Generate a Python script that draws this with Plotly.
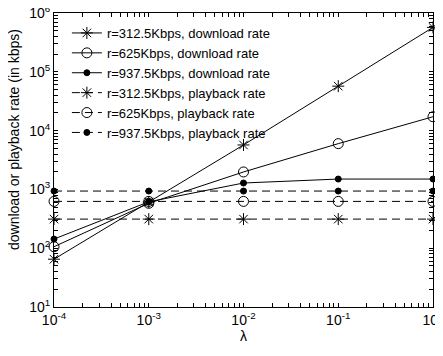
import plotly.graph_objects as go

lam = [1e-4, 1e-3, 1e-2, 1e-1, 1e0]
dl_312 = [65, 610, 5700, 57000, 570000]
dl_625 = [106, 580, 1980, 6000, 17200]
dl_937 = [143, 615, 1285, 1500, 1500]
pb_312 = [312.5] * 5
pb_625 = [625] * 5
pb_937 = [937.5] * 5

names = ["r=312.5Kbps, download rate", "r=625Kbps, download rate", "r=937.5Kbps, download rate",
         "r=312.5Kbps, playback rate", "r=625Kbps, playback rate", "r=937.5Kbps, playback rate"]
series = [dl_312, dl_625, dl_937, pb_312, pb_625, pb_937]
symbols = ["asterisk-open", "circle-open", "circle", "asterisk-open", "circle-open", "circle"]
sizes = [10, 10, 6, 10, 10, 6]
dashes = ["solid", "solid", "solid", "8px,5px", "8px,5px", "8px,5px"]

x_exponents = [-4, -3, -2, -1, 0]
y_exponents = [1, 2, 3, 4, 5, 6]
minor_mults = [1, 2, 3, 4, 5, 6, 7, 8, 9]


def ticks_for(exps):
    vals, text = [], []
    for e in exps:
        for m in minor_mults:
            if e == exps[-1] and m > 1:
                break
            vals.append(m * 10.0 ** e)
            text.append(f"10<sup>{e}</sup>" if m == 1 else "")
    return vals, text


x_tickvals, x_ticktext = ticks_for(x_exponents)
y_tickvals, y_ticktext = ticks_for(y_exponents)

fig = go.Figure()
for n, s, sym, sz, d in zip(names, series, symbols, sizes, dashes):
    fig.add_trace(go.Scatter(
        x=lam, y=s, name=n, mode="lines+markers", cliponaxis=False,
        line=dict(color="black", width=1, dash=d),
        marker=dict(symbol=sym, size=sz, color="black", line=dict(color="black", width=1)),
    ))

font = dict(family="Liberation Sans, Arial, Helvetica, sans-serif", size=13, color="black")
major = dict(
    type="log", showgrid=False, zeroline=False, showline=True, linecolor="black", linewidth=1,
    mirror="ticks", ticks="inside", ticklen=4, tickwidth=1, tickcolor="black", tickmode="array",
    tickfont=dict(size=14), automargin=False, ticklabeloverflow="allow",
)
# the page body has an 8px default margin, so the figure is sized to fit the 443x356 window
fig.update_layout(
    width=435, height=348,
    margin=dict(l=46, r=10, t=5, b=49),
    paper_bgcolor="white", plot_bgcolor="white",
    font=font,
    showlegend=True,
    legend=dict(x=0.034, y=0.983, xanchor="left", yanchor="top", bgcolor="rgba(255,255,255,0)",
                borderwidth=0, font=dict(size=13), tracegroupgap=0, itemwidth=30),
    xaxis=dict(major, range=[-4.0001, 0.0001], tickvals=x_tickvals, ticktext=x_ticktext,
               title=dict(text="λ", standoff=2, font=dict(size=14))),
    yaxis=dict(major, range=[0.9999, 6.0001], tickvals=y_tickvals, ticktext=y_ticktext),
    annotations=[dict(text="download or playback rate (in kbps)", textangle=-90,
                      xref="paper", yref="paper", x=-0.1055, y=0.568,
                      xanchor="center", yanchor="middle", showarrow=False,
                      font=dict(size=14))],
)
fig.write_html("out.html")
